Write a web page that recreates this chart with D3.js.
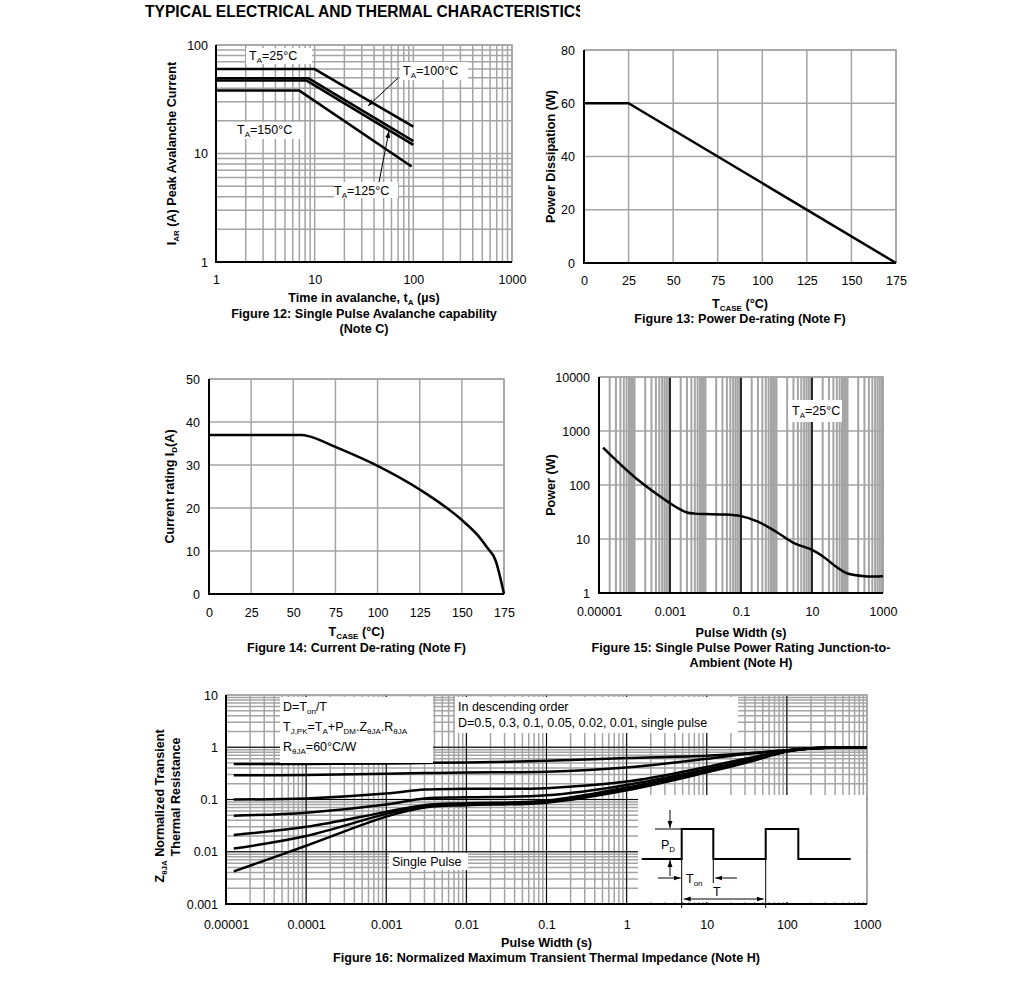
<!DOCTYPE html>
<html>
<head>
<meta charset="utf-8">
<script src="https://cdn.jsdelivr.net/npm/d3@7"></script>
<style>
  body { margin: 0; background: #fff; }
  text { font-family: "Liberation Sans", Arial, sans-serif; fill: #000; }
</style>
</head>
<body>
<svg id="chart" width="1020" height="1004"></svg>
<script>
// ---------- data ----------
// Fig 12: avalanche current vs time, one series per ambient temperature
var avalancheTemps = ["25", "100", "125", "150"];
var avalancheTime25 = [1, 10, 100];
var avalancheCur25 = [60, 60, 17.7];
var avalancheTime100 = [1, 8.6, 100];
var avalancheCur100 = [49.5, 49.5, 13];
var avalancheTime125 = [1, 8.3, 100];
var avalancheCur125 = [47, 47, 12];
var avalancheTime150 = [1, 7, 96];
var avalancheCur150 = [38, 38, 7.6];

// Fig 13: power de-rating
var powerCase = [0, 25, 175];
var powerDiss = [60, 60, 0];

// Fig 14: current de-rating
var currentCase = [0, 55, 60, 75, 100, 125, 150, 160, 165, 170, 175];
var currentRating = [37, 37, 36.6, 34.2, 29.8, 24.3, 17.2, 13.4, 10.8, 7.8, 0];

// Fig 15: single pulse power rating
var spWidth = [1.3e-5, 1.1e-4, 1e-3, 2e-3, 3e-3, 5e-3, 1e-2, 0.03, 0.1, 0.3, 1, 3, 10, 20, 50, 100, 300, 1000];
var spPower = [490, 133, 46, 35, 31, 29.5, 29, 28.5, 26.5, 21, 13.5, 8.5, 6.3, 4.8, 3, 2.3, 2.05, 2.05];

// Fig 16: normalized transient thermal impedance
var zthLabels = ["0.5", "0.3", "0.1", "0.05", "0.02", "0.01", "single pulse"];
var zthWidth = [1.25e-5, 1e-4, 1e-3, 3e-3, 1e-2, 0.1, 1, 10, 30, 100, 200, 1000];
var zthD05 = [0.48, 0.48, 0.49, 0.5, 0.51, 0.55, 0.62, 0.69, 0.76, 0.88, 0.96, 1.0];
var zthD03 = [0.29, 0.295, 0.31, 0.32, 0.33, 0.34, 0.41, 0.6, 0.74, 0.88, 0.96, 1.0];
var zthD01 = [0.1, 0.105, 0.13, 0.155, 0.16, 0.165, 0.22, 0.42, 0.6, 0.86, 0.95, 1.0];
var zthD005 = [0.049, 0.056, 0.08, 0.105, 0.11, 0.12, 0.19, 0.38, 0.55, 0.85, 0.95, 1.0];
var zthD002 = [0.021, 0.03, 0.058, 0.078, 0.085, 0.095, 0.17, 0.36, 0.53, 0.84, 0.95, 1.0];
var zthD001 = [0.0115, 0.02, 0.053, 0.075, 0.082, 0.09, 0.16, 0.35, 0.52, 0.84, 0.95, 1.0];
var zthSingle = [0.0042, 0.013, 0.047, 0.07, 0.078, 0.087, 0.15, 0.33, 0.5, 0.83, 0.95, 1.0];

var GRID = "#a4a4a4";
var svg = d3.select("#chart");

var defs = svg.append("defs");
defs.append("marker").attr("id", "arrow")
  .attr("viewBox", "0 0 10 10").attr("refX", 10).attr("refY", 5)
  .attr("markerWidth", 7).attr("markerHeight", 7).attr("orient", "auto-start-reverse")
  .append("path").attr("d", "M0,1.5L10,5L0,8.5z").attr("fill", "#000");
defs.append("clipPath").attr("id", "titleClip")
  .append("rect").attr("x", 0).attr("y", 0).attr("width", 580).attr("height", 30);

// ---------- helpers ----------
function logMinors(lo, hi) {
  var out = [];
  for (var e = lo; e < hi; e++)
    for (var k = 1; k < 10; k++) out.push(+(k * Math.pow(10, e)).toPrecision(3));
  out.push(Math.pow(10, hi));
  return out;
}

// parts: [text, isSub] pairs
function rich(sel, parts, subSize) {
  var down = false;
  parts.forEach(function (p) {
    var t = sel.append("tspan").text(p[0]);
    if (p[1]) {
      t.attr("font-size", subSize);
      if (!down) { t.attr("dy", 3); down = true; }
    } else if (down) {
      t.attr("dy", -3); down = false;
    }
  });
  return sel;
}

function panel(left, top) {
  return svg.append("g").attr("transform", "translate(" + left + "," + top + ")");
}

function vlines(g, x, vals, h, color, width) {
  g.append("g").selectAll("line").data(vals).enter().append("line")
    .attr("x1", d => x(d)).attr("x2", d => x(d))
    .attr("y1", 0).attr("y2", h)
    .attr("stroke", color).attr("stroke-width", width);
}

function hlines(g, y, vals, w, color, width) {
  g.append("g").selectAll("line").data(vals).enter().append("line")
    .attr("y1", d => y(d)).attr("y2", d => y(d))
    .attr("x1", 0).attr("x2", w)
    .attr("stroke", color).attr("stroke-width", width);
}

function frame(g, w, h) {
  g.append("path").attr("d", "M0,0H" + w + "V" + h)
    .attr("fill", "none").attr("stroke", GRID).attr("stroke-width", 1.5);
  g.append("path").attr("d", "M0,0V" + h + "H" + w)
    .attr("fill", "none").attr("stroke", "#000").attr("stroke-width", 2);
}

function axes(g, x, y, h, xVals, yVals, xPad, yPad) {
  g.append("g").attr("transform", "translate(0," + h + ")")
    .call(d3.axisBottom(x).tickValues(xVals).tickFormat(d => String(d)).tickSize(0).tickPadding(xPad))
    .attr("font-family", null).attr("font-size", 12.5)
    .call(a => a.select(".domain").remove());
  g.append("g")
    .call(d3.axisLeft(y).tickValues(yVals).tickFormat(d => String(d)).tickSize(0).tickPadding(yPad))
    .attr("font-family", null).attr("font-size", 12.5)
    .call(a => a.select(".domain").remove());
}

function curve(g, x, y, xs, ys, width, shape) {
  var pts = xs.map((v, i) => [v, ys[i]]);
  g.append("path").datum(pts)
    .attr("d", d3.line().x(d => x(d[0])).y(d => y(d[1])).curve(shape || d3.curveLinear))
    .attr("fill", "none").attr("stroke", "#000").attr("stroke-width", width)
    .attr("stroke-linejoin", "round");
}

function boldText(x, y, parts, rotate) {
  var t = svg.append("text").attr("font-weight", "bold").attr("font-size", 12.6)
    .attr("text-anchor", "middle");
  if (rotate) t.attr("transform", "translate(" + x + "," + y + ") rotate(-90)");
  else t.attr("x", x).attr("y", y);
  return rich(t, parts, 8);
}

function labelBox(g, bx, by, bw, bh, tx, ty, parts) {
  g.append("rect").attr("x", bx).attr("y", by).attr("width", bw).attr("height", bh).attr("fill", "#fff");
  return rich(g.append("text").attr("x", tx).attr("y", ty).attr("font-size", 12.5), parts, 8);
}

function arrow(g, x1, y1, x2, y2) {
  g.append("line").attr("x1", x1).attr("y1", y1).attr("x2", x2).attr("y2", y2)
    .attr("stroke", "#000").attr("stroke-width", 1).attr("marker-end", "url(#arrow)");
}

var smooth = d3.curveCatmullRom.alpha(0.5);

// ---------- page title ----------
svg.append("text").attr("x", 145).attr("y", 17)
  .attr("font-weight", "bold").attr("font-size", 15.6)
  .attr("clip-path", "url(#titleClip)")
  .text("TYPICAL ELECTRICAL AND THERMAL CHARACTERISTICS");

// ---------- Figure 12 ----------
(function () {
  var L = 216, T = 45, W = 296, H = 217;
  var g = panel(L, T);
  var x = d3.scaleLog().domain([1, 1000]).range([0, W]);
  var y = d3.scaleLog().domain([1, 100]).range([H, 0]);
  vlines(g, x, logMinors(0, 3), H, GRID, 1.5);
  hlines(g, y, logMinors(0, 2), W, GRID, 1.5);
  frame(g, W, H);
  axes(g, x, y, H, [1, 10, 100, 1000], [1, 10, 100], 13, 8);

  var times = [avalancheTime25, avalancheTime100, avalancheTime125, avalancheTime150];
  var curs = [avalancheCur25, avalancheCur100, avalancheCur125, avalancheCur150];
  times.forEach(function (t, i) { curve(g, x, y, t, curs[i], 2.5); });

  var lbl = d => [["T", false], ["A", true], ["=" + d + "°C", false]];
  labelBox(g, 30, 3, 66, 16, 33, 15, lbl(avalancheTemps[0]));
  labelBox(g, 184, 17, 68, 18, 187, 30, lbl(avalancheTemps[1]));
  labelBox(g, 118, 137, 64, 16, 118, 149.5, lbl(avalancheTemps[2]));
  labelBox(g, 19, 77, 68, 17, 21, 88.5, lbl(avalancheTemps[3]));
  arrow(g, 182, 33, 152, 61);
  arrow(g, 163, 137, 173, 86);

  boldText(L + W / 2, 302, [["Time in avalanche, t", false], ["A", true], [" (µs)", false]]);
  boldText(L + W / 2, 318, [["Figure 12: Single Pulse Avalanche capability", false]]);
  boldText(L + W / 2, 333, [["(Note C)", false]]);
  boldText(176, T + H / 2, [["I", false], ["AR", true], [" (A) Peak Avalanche Current", false]], true);
})();

// ---------- Figure 13 ----------
(function () {
  var L = 584, T = 50, W = 312, H = 213;
  var g = panel(L, T);
  var x = d3.scaleLinear().domain([0, 175]).range([0, W]);
  var y = d3.scaleLinear().domain([0, 80]).range([H, 0]);
  vlines(g, x, d3.range(25, 176, 25), H, GRID, 1.5);
  hlines(g, y, d3.range(20, 81, 20), W, GRID, 1.5);
  frame(g, W, H);
  axes(g, x, y, H, d3.range(0, 176, 25), d3.range(0, 81, 20), 13, 9);
  curve(g, x, y, powerCase, powerDiss, 2.5);

  boldText(L + W / 2, 308, [["T", false], ["CASE", true], [" (°C)", false]]);
  boldText(L + W / 2, 323, [["Figure 13: Power De-rating (Note F)", false]]);
  boldText(555, T + H / 2, [["Power Dissipation (W)", false]], true);
})();

// ---------- Figure 14 ----------
(function () {
  var L = 209, T = 379, W = 295, H = 215;
  var g = panel(L, T);
  var x = d3.scaleLinear().domain([0, 175]).range([0, W]);
  var y = d3.scaleLinear().domain([0, 50]).range([H, 0]);
  vlines(g, x, d3.range(25, 176, 25), H, GRID, 1.5);
  hlines(g, y, d3.range(10, 51, 10), W, GRID, 1.5);
  frame(g, W, H);
  axes(g, x, y, H, d3.range(0, 176, 25), d3.range(0, 51, 10), 14, 9);
  curve(g, x, y, currentCase, currentRating, 2.5, d3.curveMonotoneX);

  boldText(L + W / 2, 636, [["T", false], ["CASE", true], [" (°C)", false]]);
  boldText(L + W / 2, 652, [["Figure 14: Current De-rating (Note F)", false]]);
  boldText(174, T + H / 2, [["Current rating I", false], ["D", true], ["(A)", false]], true);
})();

// ---------- Figure 15 ----------
(function () {
  var L = 599, T = 377, W = 284, H = 216;
  var g = panel(L, T);
  var x = d3.scaleLog().domain([1e-5, 1000]).range([0, W]);
  var y = d3.scaleLog().domain([1, 10000]).range([H, 0]);
  vlines(g, x, logMinors(-5, 3), H, GRID, 2);
  hlines(g, y, [10, 100, 1000, 10000], W, GRID, 1.5);
  vlines(g, x, [0.001, 0.1, 10], H, "#000", 1.5);
  frame(g, W, H);
  axes(g, x, y, H, [0.00001, 0.001, 0.1, 10, 1000], [1, 10, 100, 1000, 10000], 14, 9);
  curve(g, x, y, spWidth, spPower, 2.5, smooth);

  labelBox(g, 189, 23, 54, 22, 193, 37.5, [["T", false], ["A", true], ["=25°C", false]]);

  boldText(L + W / 2, 637, [["Pulse Width (s)", false]]);
  boldText(L + W / 2, 652, [["Figure 15: Single Pulse Power Rating Junction-to-", false]]);
  boldText(L + W / 2, 667, [["Ambient (Note H)", false]]);
  boldText(555, T + H / 2, [["Power (W)", false]], true);
})();

// ---------- Figure 16 ----------
(function () {
  var L = 226, T = 695, W = 641, H = 209;
  var g = panel(L, T);
  var x = d3.scaleLog().domain([1e-5, 1000]).range([0, W]);
  var y = d3.scaleLog().domain([0.001, 10]).range([H, 0]);
  vlines(g, x, logMinors(-5, 3), H, GRID, 1.5);
  hlines(g, y, logMinors(-3, 1), W, GRID, 1.5);
  vlines(g, x, [1e-4, 1e-3, 1e-2, 0.1, 1, 10, 100], H, "#000", 1);
  hlines(g, y, [0.01, 0.1, 1], W, "#000", 1);
  frame(g, W, H);
  axes(g, x, y, H, [0.00001, 0.0001, 0.001, 0.01, 0.1, 1, 10, 100, 1000],
    [0.001, 0.01, 0.1, 1, 10], 16, 8);

  [zthD05, zthD03, zthD01, zthD005, zthD002, zthD001, zthSingle].forEach(function (s) {
    curve(g, x, y, zthWidth, s, 2.5, smooth);
  });

  // note boxes
  g.append("rect").attr("x", 54).attr("y", 2).attr("width", 153).attr("height", 66).attr("fill", "#fff");
  rich(g.append("text").attr("x", 57).attr("y", 16).attr("font-size", 12.5),
    [["D=T", false], ["on", true], ["/T", false]], 8);
  rich(g.append("text").attr("x", 57).attr("y", 36).attr("font-size", 12.5),
    [["T", false], ["J,PK", true], ["=T", false], ["A", true], ["+P", false], ["DM", true],
     [".Z", false], ["θJA", true], [".R", false], ["θJA", true]], 8);
  rich(g.append("text").attr("x", 57).attr("y", 56).attr("font-size", 12.5),
    [["R", false], ["θJA", true], ["=60°C/W", false]], 8);

  g.append("rect").attr("x", 229).attr("y", 2).attr("width", 283).attr("height", 36).attr("fill", "#fff");
  g.append("text").attr("x", 232).attr("y", 16).attr("font-size", 12.5).text("In descending order");
  g.append("text").attr("x", 232).attr("y", 32).attr("font-size", 12.5)
    .text("D=" + zthLabels.join(", "));

  labelBox(g, 163, 158, 79, 17, 166, 171, [["Single Pulse", false]]);

  // pulse train inset
  var bx = 412, by = 100;
  var ins = g.append("g").attr("transform", "translate(" + bx + "," + by + ")");
  ins.append("rect").attr("x", 0).attr("y", 0).attr("width", 228).attr("height", 107).attr("fill", "#fff");
  var lo = 64, hi = 34, edges = [3.7, 43.7, 75.3, 127.7, 160.3, 212.7];
  var wave = "M" + edges[0] + "," + lo + "H" + edges[1] + "V" + hi + "H" + edges[2] + "V" + lo +
    "H" + edges[3] + "V" + hi + "H" + edges[4] + "V" + lo + "H" + edges[5];
  ins.append("path").attr("d", wave).attr("fill", "none").attr("stroke", "#000").attr("stroke-width", 2);
  var thin = function (x1, y1, x2, y2) {
    ins.append("line").attr("x1", x1).attr("y1", y1).attr("x2", x2).attr("y2", y2)
      .attr("stroke", "#000").attr("stroke-width", 1);
  };
  thin(17, hi, edges[1], hi);
  thin(edges[1], lo, edges[1], 113);
  thin(edges[3], lo, edges[3], 113);
  thin(edges[2], lo, edges[2], 88);
  arrow(ins, 32, 15, 32, hi - 1);
  arrow(ins, 32, 81, 32, lo + 1);
  arrow(ins, 20, 83, edges[1] - 1, 83);
  arrow(ins, 99, 83, edges[2] + 2, 83);
  ins.append("line").attr("x1", edges[1] + 2).attr("y1", 104).attr("x2", edges[3] - 2).attr("y2", 104)
    .attr("stroke", "#000").attr("stroke-width", 1)
    .attr("marker-start", "url(#arrow)").attr("marker-end", "url(#arrow)");
  rich(ins.append("text").attr("x", 23).attr("y", 54).attr("font-size", 12.5), [["P", false], ["D", true]], 8);
  rich(ins.append("text").attr("x", 48).attr("y", 88).attr("font-size", 12.5), [["T", false], ["on", true]], 8);
  ins.append("text").attr("x", 75).attr("y", 101).attr("font-size", 12.5).text("T");

  boldText(L + W / 2, 947, [["Pulse Width (s)", false]]);
  boldText(L + W / 2, 962, [["Figure 16: Normalized Maximum Transient Thermal Impedance (Note H)", false]]);
  boldText(164, 806, [["Z", false], ["θJA", true], [" Normalized Transient", false]], true);
  boldText(180, 797, [["Thermal Resistance", false]], true);
})();
</script>
</body>
</html>
